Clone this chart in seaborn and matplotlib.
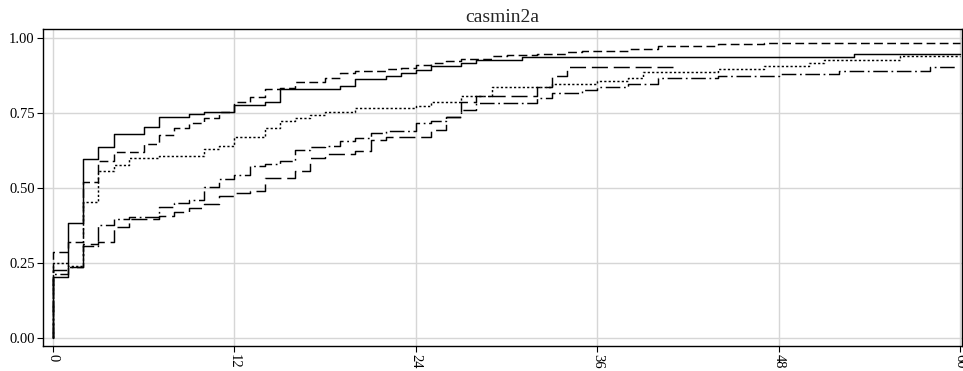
import matplotlib
matplotlib.use("Agg")
import matplotlib.pyplot as plt
import pandas as pd
import seaborn as sns

# Monthly step curves, one per casmin2a group: month of each step and level after it
group_names = ["g1", "g2", "g3", "g4", "g5"]

g1_months = [0, 1, 2, 3, 4, 6, 7, 9, 10, 12, 14, 15, 19, 20, 22, 23, 24, 25, 27, 28, 31, 53]
g1_values = [0.203, 0.381, 0.594, 0.637, 0.680, 0.701, 0.734, 0.744, 0.752, 0.776, 0.787,
             0.829, 0.840, 0.861, 0.872, 0.883, 0.891, 0.904, 0.917, 0.927, 0.936, 0.947]
g1_end = 60

g2_months = [0, 1, 2, 3, 4, 6, 7, 8, 9, 10, 11, 12, 13, 14, 15, 16, 18, 19, 20, 22, 23, 24,
             25, 26, 27, 29, 30, 32, 34, 35, 38, 40, 44, 47]
g2_values = [0.285, 0.320, 0.520, 0.589, 0.620, 0.646, 0.676, 0.700, 0.714, 0.731, 0.753,
             0.787, 0.801, 0.828, 0.831, 0.853, 0.867, 0.881, 0.890, 0.894, 0.898, 0.910,
             0.916, 0.921, 0.930, 0.938, 0.943, 0.947, 0.952, 0.956, 0.961, 0.973, 0.978, 0.983]
g2_end = 60

g3_months = [0, 1, 2, 3, 4, 5, 7, 10, 11, 12, 14, 15, 16, 17, 18, 20, 24, 25, 27, 29, 33, 36,
             38, 39, 44, 47, 50, 51, 56]
g3_values = [0.248, 0.240, 0.453, 0.556, 0.576, 0.598, 0.607, 0.628, 0.639, 0.670, 0.700,
             0.723, 0.731, 0.742, 0.753, 0.764, 0.772, 0.786, 0.804, 0.836, 0.847, 0.856,
             0.865, 0.887, 0.897, 0.905, 0.917, 0.927, 0.938]
g3_end = 60

g4_months = [0, 1, 2, 3, 4, 5, 7, 8, 9, 10, 11, 12, 13, 14, 16, 17, 18, 20, 21, 22, 25, 26,
             27, 28, 32, 33, 34]
g4_values = [0.226, 0.236, 0.312, 0.320, 0.370, 0.394, 0.406, 0.420, 0.431, 0.444, 0.472,
             0.481, 0.490, 0.533, 0.557, 0.600, 0.612, 0.623, 0.659, 0.670, 0.691, 0.736,
             0.784, 0.807, 0.836, 0.872, 0.903]
g4_end = 41

g5_months = [0, 1, 2, 3, 4, 5, 7, 8, 9, 10, 11, 12, 13, 14, 15, 16, 17, 18, 19, 20, 21, 22,
             24, 25, 26, 27, 28, 32, 33, 35, 36, 38, 40, 44, 48, 52, 58]
g5_values = [0.212, 0.236, 0.307, 0.376, 0.394, 0.403, 0.434, 0.448, 0.459, 0.501, 0.528,
             0.542, 0.572, 0.578, 0.590, 0.624, 0.634, 0.640, 0.654, 0.667, 0.681, 0.689,
             0.715, 0.723, 0.737, 0.758, 0.782, 0.799, 0.814, 0.826, 0.837, 0.845, 0.866,
             0.872, 0.880, 0.890, 0.901]
g5_end = 59.75

x_ticks = [0, 12, 24, 36, 48, 60]
y_ticks = [0.00, 0.25, 0.50, 0.75, 1.00]
title_text = "casmin2a"

series = {
    "g1": (g1_months, g1_values, g1_end),
    "g2": (g2_months, g2_values, g2_end),
    "g3": (g3_months, g3_values, g3_end),
    "g4": (g4_months, g4_values, g4_end),
    "g5": (g5_months, g5_values, g5_end),
}

# Long table: each curve starts at (0, 0), rises at month 0 and holds its last level to the end
rows = []
for name in group_names:
    months, values, end = series[name]
    xs = [0] + list(months) + [end]
    ys = [0.0] + list(values) + [values[-1]]
    for order, (m, v) in enumerate(zip(xs, ys)):
        rows.append({"group": name, "order": order, "month": m, "share": v})
df = pd.DataFrame(rows)

sns.set_theme(style="whitegrid", rc={
    "grid.color": "#d6d6d6",
    "grid.linewidth": 1.0,
    "axes.edgecolor": "black",
    "axes.linewidth": 1.0,
    "xtick.bottom": True,
    "ytick.left": True,
    "xtick.major.size": 4,
    "ytick.major.size": 4,
    "xtick.major.width": 0.8,
    "ytick.major.width": 0.8,
    "xtick.color": "black",
    "ytick.color": "black",
})
plt.rcParams["font.family"] = ["Liberation Serif", "DejaVu Serif"]

fig = plt.figure(figsize=(9.63, 3.71), dpi=100)
ax = fig.add_axes([0.0447, 0.0674, 0.9543, 0.8544])

dash_map = {
    "g1": "",
    "g2": (6, 3),
    "g3": (1.5, 1.5),
    "g4": (11, 4),
    "g5": (10, 2.5, 1.2, 2.5),
}

sns.lineplot(data=df, x="month", y="share", style="group", style_order=group_names,
             dashes=dash_map, units="group", estimator=None, sort=False,
             color="black", linewidth=1.05, drawstyle="steps-post", legend=False, ax=ax)

ax.set_xlim(-0.66, 60.12)
ax.set_ylim(-0.028, 1.029)
ax.set_xticks(x_ticks)
ax.set_xticklabels([str(t) for t in x_ticks], rotation=270, fontsize=10.5)
ax.set_yticks(y_ticks)
ax.set_yticklabels([f"{v:.2f}" for v in y_ticks], fontsize=10.5)
ax.tick_params(axis="both", direction="out", pad=2)
ax.set_xlabel("")
ax.set_ylabel("")
ax.set_title(title_text, fontsize=14, pad=5)
for side in ["left", "bottom", "top", "right"]:
    ax.spines[side].set_visible(True)
    ax.spines[side].set_color("black")

fig.savefig("out.png", dpi=100)
